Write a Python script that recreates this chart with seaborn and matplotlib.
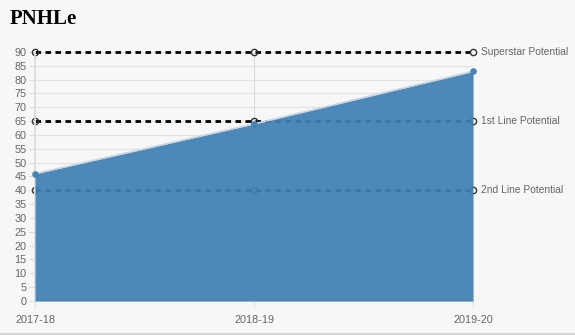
import matplotlib
matplotlib.use("Agg")
import matplotlib.pyplot as plt
import seaborn as sns
import pandas as pd
import numpy as np

seasons = ["2017-18", "2018-19", "2019-20"]
pnhle = [46, 64, 83]
level_names = ["Superstar Potential", "1st Line Potential", "2nd Line Potential"]
level_values = [90, 65, 40]

sns.set_theme(style="white")
plt.rcParams['font.family'] = ['Liberation Sans', 'DejaVu Sans']

bg = "#f7f7f7"
fig = plt.figure(figsize=(5.75, 3.35), dpi=100, facecolor=bg)
ax = fig.add_axes([0.061, 0.1015, 0.7617, 0.7433])
ax.set_facecolor(bg)

x = np.arange(len(seasons))
df = pd.DataFrame({"x": x, "season": seasons, "value": pnhle})

# grid
for yv in range(0, 91, 5):
    ax.axhline(yv, color="#e3e3e3", lw=0.8, zorder=0)
for xv in x:
    ax.axvline(xv, color="#dddddd", lw=0.8, zorder=0)

# potential lines
for name, val in zip(level_names, level_values):
    ldf = pd.DataFrame({"x": x, "value": [val] * len(x)})
    sns.lineplot(data=ldf, x="x", y="value", ax=ax, color="black", lw=2,
                 linestyle=(0, (2.0, 1.6)), marker="o", markersize=4.5,
                 markerfacecolor="none", markeredgecolor="#333333",
                 markeredgewidth=1, zorder=2, clip_on=False)
    ax.text(len(x) - 1 + 0.035, val, name, va="center", ha="left",
            fontsize=7.4, color="#666666", clip_on=False)

# area
ax.fill_between(df["x"], df["value"], 0, color="#3f80b4", alpha=0.93,
                lw=0, zorder=3)
sns.lineplot(data=df, x="x", y="value", ax=ax, color="#c9d4de", lw=1.2,
             zorder=4)
ax.scatter(df["x"], df["value"], s=14, color="#4584b6", zorder=5, clip_on=False)

ax.set_xlim(0, len(x) - 1)
ax.set_ylim(0, 90)
ax.set_yticks(range(0, 91, 5))
ax.set_xticks(x)
ax.set_xticklabels(seasons)
ax.set_xlabel("")
ax.set_ylabel("")
ax.tick_params(axis="both", labelsize=7.8, labelcolor="#666666", length=4,
               color="#dddddd", width=0.8, left=True, bottom=True, pad=2)
ax.tick_params(axis="x", pad=6)
for s in ax.spines.values():
    s.set_visible(False)
ax.spines["left"].set_visible(True)
ax.spines["left"].set_color("#dddddd")
ax.spines["bottom"].set_visible(True)
ax.spines["bottom"].set_color("#dddddd")

fig.text(0.017, 0.943, "PNHLe", fontsize=15, fontweight="bold",
         family="Liberation Serif", va="center", ha="left", color="black")

fig.add_artist(plt.Line2D([0, 1], [0.003, 0.003], color="#cccccc", lw=1.2))

fig.savefig("out.png", dpi=100, facecolor=bg)
